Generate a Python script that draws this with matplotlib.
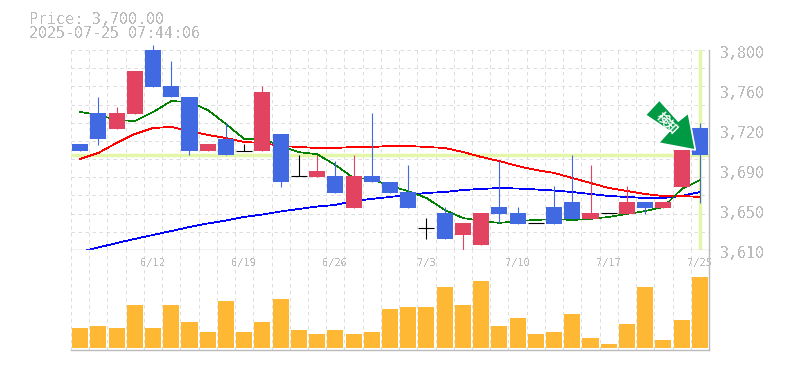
import matplotlib
matplotlib.use('Agg')
import matplotlib.pyplot as plt
from matplotlib.patches import Polygon, Rectangle
from matplotlib.transforms import Affine2D

plt.rcParams['font.family'] = ['DejaVu Sans Mono', 'Noto Sans CJK JP']
plt.rcParams['text.antialiased'] = False

# ohlc
opens = [3711, 3740, 3725, 3739, 3805, 3766, 3755, 3704, 3715, 3704, 3704, 3720, 3680, 3679, 3680, 3650, 3680, 3675,
         3665, 3631, 3645, 3624, 3615, 3651, 3645, 3636, 3651, 3656, 3639, 3645, 3644, 3656, 3650, 3670, 3726]
highs = [3711, 3755, 3746, 3780, 3805, 3790, 3755, 3711, 3731, 3711, 3766, 3720, 3700, 3700, 3695, 3700, 3740, 3675,
         3691, 3640, 3651, 3636, 3645, 3695, 3651, 3636, 3671, 3700, 3691, 3645, 3671, 3656, 3656, 3705, 3731]
lows = [3704, 3710, 3725, 3739, 3765, 3755, 3700, 3704, 3700, 3704, 3704, 3670, 3680, 3679, 3664, 3650, 3675, 3664,
        3650, 3620, 3620, 3609, 3615, 3636, 3635, 3636, 3635, 3639, 3639, 3645, 3644, 3644, 3650, 3670, 3655]
closes = [3704, 3715, 3740, 3780, 3765, 3755, 3704, 3711, 3700, 3704, 3760, 3675, 3680, 3685, 3664, 3680, 3675, 3664,
          3650, 3631, 3620, 3636, 3645, 3644, 3635, 3636, 3635, 3639, 3645, 3645, 3656, 3650, 3656, 3705, 3700]
volumes = [20, 22, 20, 43, 20, 43, 26, 16, 47, 16, 26, 49, 18, 14, 18, 14, 16, 39,
           41, 41, 61, 43, 67, 22, 30, 14, 16, 34, 10, 4, 24, 61, 8, 28, 71]

ma5 = [3741.1, 3738.3, 3733.5, 3732.5, 3741, 3751.5, 3750.6, 3743, 3729.7, 3715.5, 3715.5, 3708.8, 3703, 3701, 3690.8,
       3678.4, 3677.5, 3670.8, 3666, 3659.4, 3648, 3640.4, 3637.6, 3635.7, 3637.6, 3638.5, 3639.5, 3638.5, 3639.5,
       3641.4, 3644.2, 3647, 3650.9, 3668, 3676.5]
ma25 = [3696.5, 3702.2, 3711.7, 3720.2, 3725.9, 3726.9, 3723, 3719.3, 3716.4, 3712.6, 3711.7, 3708.8, 3707.9, 3706.9,
        3706.9, 3707.9, 3707.9, 3708.8, 3708.8, 3707.9, 3706.9, 3703.1, 3698.4, 3694.5, 3689.8, 3686, 3683.2, 3678.4,
        3673.7, 3668.9, 3666.1, 3663.2, 3661.3, 3661.3, 3660.4]
ma75 = [3608.1, 3612.4, 3616.6, 3620.5, 3624.3, 3628, 3631.9, 3635.2, 3638, 3641.4, 3643.7, 3646.6, 3649, 3651.3,
        3652.8, 3656.6, 3658.5, 3660.4, 3662.3, 3664.2, 3665.1, 3667, 3668, 3668.9, 3668.4, 3667.5, 3666.5, 3665.1,
        3663.2, 3661.3, 3660.4, 3659.4, 3659.4, 3661.3, 3665.1]

price_ticks = [3800, 3762, 3724, 3686, 3648, 3610]
price_labels = ['3,800', '3,760', '3,720', '3,690', '3,650', '3,610']
date_pos = [4, 9, 14, 19, 24, 29, 34]
date_labels = ['6/12', '6/19', '6/26', '7/3', '7/10', '7/17', '7/25']
last_price = 3700

GREY = '#bbbbbb'
GRID = '#dddddd'
RED = '#e24361'
BLUE = '#4169e1'
MARK = '#e4f7a8'
n = len(closes)

W, H = 785, 370
fig = plt.figure(figsize=(W / 100, H / 100), dpi=100)
ax = fig.add_axes([71 / W, 1 - 250 / H, 638 / W, 200 / H])
vol = fig.add_axes([71 / W, 1 - 349.5 / H, 638 / W, 99.5 / H])

ax.set_xlim(-0.5, n - 0.5)
ax.set_ylim(3610, 3800)
vol.set_xlim(-0.5, n - 0.5)
vol.set_ylim(-1.5, 98)

# grid
for a in (ax, vol):
    for i in range(n):
        a.axvline(i - 0.5, color=GRID, lw=0.72, ls=(0, (3.5, 3.5)), zorder=0)
    for s in a.spines.values():
        s.set_visible(False)
    a.spines['right'].set_visible(True)
    a.spines['bottom'].set_visible(True)
    a.spines['right'].set_color(GREY)
    a.spines['bottom'].set_color(GREY)
    a.spines['right'].set_linewidth(1.0)
    a.spines['bottom'].set_linewidth(1.0)
    a.set_xticks([])
    a.set_yticks([])
for k in range(12):
    ax.axhline(3610 + k * 190 / 11, color=GRID, lw=0.72, ls=(0, (3.5, 3.5)), zorder=0)

# current price cross
ax.axhline(last_price, color=MARK, lw=2.5, zorder=1)
ax.axvline(n - 1, color=MARK, lw=2.5, zorder=1)

ax.plot(range(n), ma75, color='#0000ff', lw=0.55, antialiased=False, clip_on=False, zorder=2)
ax.plot(range(n), ma25, color='#ff0000', lw=0.55, antialiased=False, zorder=2)
ax.plot(range(n), ma5, color='#007f00', lw=0.45, antialiased=False, zorder=2)

for i in range(n):
    o, h, l, c = opens[i], highs[i], lows[i], closes[i]
    col = RED if c > o else BLUE if c < o else 'black'
    ax.plot([i, i], [l, h], color=col, lw=0.8, clip_on=False, solid_capstyle='butt', zorder=3)
    if c == o:
        ax.plot([i - 0.44, i + 0.44], [c, c], color=col, lw=0.8, solid_capstyle='butt', zorder=3)
    else:
        ax.add_patch(Rectangle((i - 0.44, min(o, c)), 0.88, abs(c - o), fc=col, ec='none', zorder=3))

vol.bar(range(n), volumes, width=0.88, color='#ffb833', zorder=2)

for tick, label in zip(price_ticks, price_labels):
    ax.annotate(label, (1, tick), xycoords=('axes fraction', 'data'), xytext=(11, -4), textcoords='offset pixels',
                color=GREY, fontsize=10.8, va='center', ha='left', annotation_clip=False)
for pos, label in zip(date_pos, date_labels):
    vol.annotate(label, (pos, 1), xycoords=('data', 'axes fraction'), xytext=(0, -13), textcoords='offset pixels',
                 color=GREY, fontsize=7.5, va='center', ha='center', annotation_clip=False)

fig.text(29 / W, 1 - 19 / H, 'Price: 3,700.00', color=GREY, fontsize=10.8, va='center', ha='left')
fig.text(29 / W, 1 - 34 / H, '2025-07-25 07:44:06', color=GREY, fontsize=10.8, va='center', ha='left')

# arrow pointing at the last candle, shape is in pixels from the tip
tip = ax.transData.transform((33.75, 3705))
shape = [(0, 0), (-37, 7), (-26, 19), (-50, 35), (-36, 50), (-17, 29), (-7, 37)]
fig.add_artist(Polygon(shape, closed=True, fc='#009944', ec='white', lw=1.2, zorder=6,
                       transform=Affine2D().translate(*tip)))
plt.rcParams['text.antialiased'] = True
fig.text(666.5 / W, 1 - 123 / H, '検知', color='white', fontsize=9, rotation=-45, weight='bold',
         va='center', ha='center', rotation_mode='anchor', zorder=7, family='Noto Sans CJK JP')

fig.savefig('out.png', dpi=100)
